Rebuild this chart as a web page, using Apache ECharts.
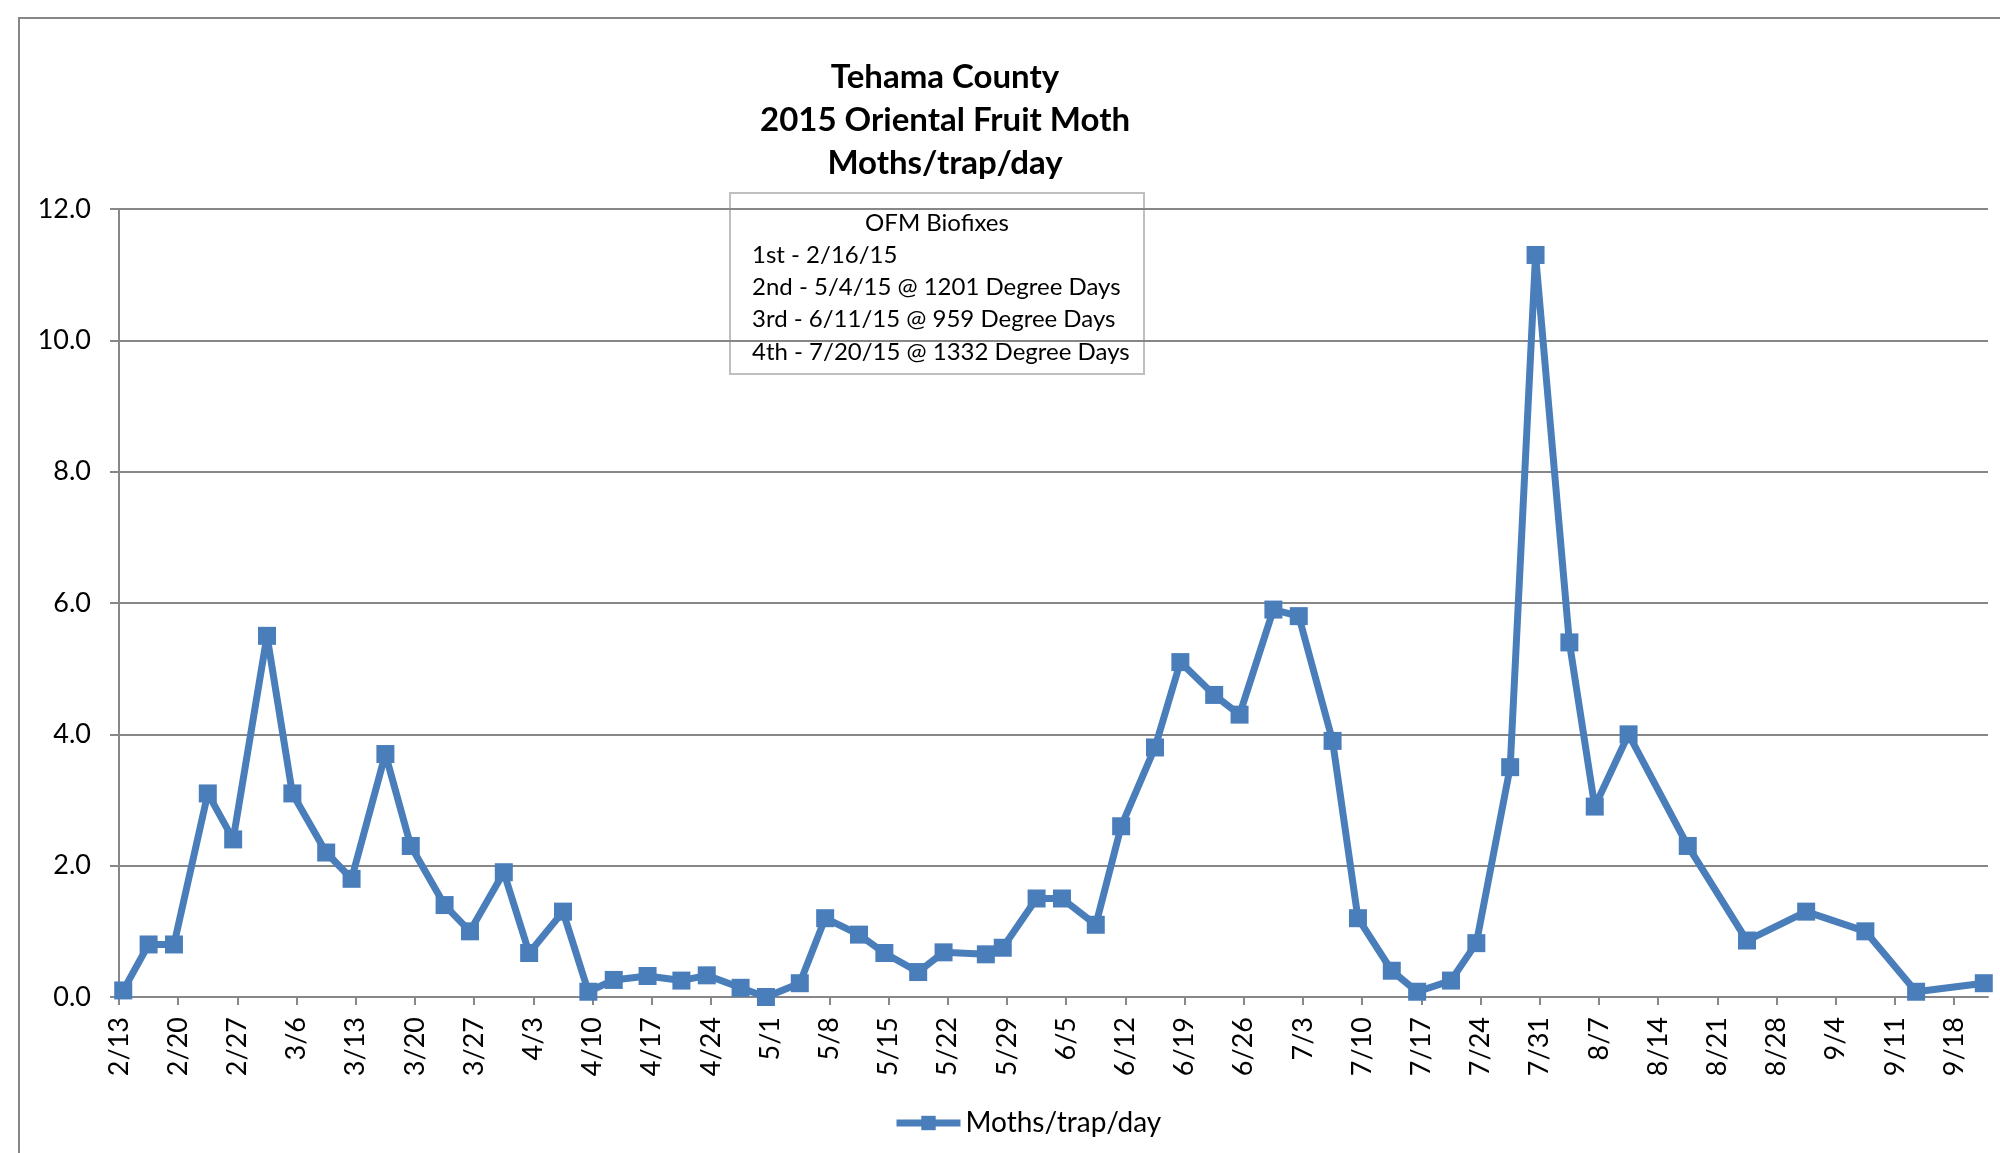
<!DOCTYPE html>
<html>
<head>
<meta charset="utf-8">
<script src="https://cdn.jsdelivr.net/npm/echarts@6/dist/echarts.min.js"></script>
<style>
html,body{margin:0;padding:0;background:#ffffff;}
#chart{width:2000px;height:1153px;}
</style>
</head>
<body>
<div id="chart"></div>
<script>
// ---------- data ----------
const chartYear = 2015;
const titleLines = ['Tehama County', '2015 Oriental Fruit Moth', 'Moths/trap/day'];
const seriesName = 'Moths/trap/day';

const sampleDates = [
  '2/13','2/16','2/19','2/23','2/26','3/2','3/5','3/9','3/12','3/16',
  '3/19','3/23','3/26','3/30','4/2','4/6','4/9','4/12','4/16','4/20',
  '4/23','4/27','4/30','5/4','5/7','5/11','5/14','5/18','5/21','5/26',
  '5/28','6/1','6/4','6/8','6/11','6/15','6/18','6/22','6/25','6/29',
  '7/2','7/6','7/9','7/13','7/16','7/20','7/23','7/27','7/30','8/3',
  '8/6','8/10','8/17','8/24','8/31','9/7','9/13','9/21'
];
const mothsPerTrapPerDay = [
  0.1, 0.8, 0.8, 3.1, 2.4, 5.5, 3.1, 2.2, 1.8, 3.7,
  2.3, 1.4, 1.0, 1.9, 0.67, 1.3, 0.08, 0.26, 0.32, 0.25,
  0.33, 0.14, 0.0, 0.21, 1.2, 0.95, 0.67, 0.38, 0.68, 0.65,
  0.75, 1.5, 1.5, 1.1, 2.6, 3.8, 5.1, 4.6, 4.3, 5.9,
  5.8, 3.9, 1.2, 0.4, 0.08, 0.25, 0.82, 3.5, 11.3, 5.4,
  2.9, 4.0, 2.3, 0.86, 1.3, 1.0, 0.08, 0.21
];

const xTickLabels = [
  '2/13','2/20','2/27','3/6','3/13','3/20','3/27','4/3','4/10','4/17',
  '4/24','5/1','5/8','5/15','5/22','5/29','6/5','6/12','6/19','6/26',
  '7/3','7/10','7/17','7/24','7/31','8/7','8/14','8/21','8/28','9/4',
  '9/11','9/18'
];
const xAxisStart = '2/13';
const xAxisEnd = '9/22';
const yAxisMin = 0;
const yAxisMax = 12;
const yAxisStep = 2;

const biofixHeading = 'OFM Biofixes';
const biofixLines = [
  '1st - 2/16/15',
  '2nd - 5/4/15 @ 1201 Degree Days',
  '3rd - 6/11/15 @ 959 Degree Days',
  '4th - 7/20/15 @ 1332 Degree Days'
];

// ---------- helpers ----------
function dayOf(md) {
  const p = md.split('/').map(Number);
  const s = xAxisStart.split('/').map(Number);
  return (Date.UTC(chartYear, p[0] - 1, p[1]) - Date.UTC(chartYear, s[0] - 1, s[1])) / 86400000;
}
// Excel date axis: each date is drawn in the middle of its one-day slot
const SLOT_CENTER = 0.5;
const tickDays = xTickLabels.map(dayOf);
const tickLabelByDay = {};
xTickLabels.forEach(function (l) { tickLabelByDay[dayOf(l)] = l; });
const seriesData = sampleDates.map(function (d, i) {
  return [dayOf(d) + SLOT_CENTER, mothsPerTrapPerDay[i]];
});

const FONT = 'Lato';
const GRAY = '#878787';
const BLUE = '#4A7EBB';

const chart = echarts.init(document.getElementById('chart'), null, { renderer: 'canvas' });
const option = {
  animation: false,
  backgroundColor: '#ffffff',
  title: {
    text: titleLines.join('\n'),
    left: 945,
    top: 56,
    textAlign: 'center',
    padding: 0,
    textStyle: { fontFamily: FONT, fontWeight: 'bold', fontSize: 33, lineHeight: 43, color: '#000000' }
  },
  legend: {
    data: [seriesName],
    left: 888,
    top: 1104,
    itemWidth: 64,
    itemHeight: 18,
    itemStyle: { color: BLUE },
    lineStyle: { width: 7, color: BLUE },
    textStyle: { fontFamily: FONT, fontSize: 28, color: '#000000' }
  },
  grid: { left: 119, right: 12, top: 209, bottom: 156, containLabel: false },
  xAxis: {
    type: 'value',
    min: dayOf(xAxisStart),
    max: dayOf(xAxisEnd),
    interval: 7,
    axisLine: { show: true, lineStyle: { color: GRAY, width: 2 } },
    axisTick: { show: true, length: 8, customValues: tickDays, lineStyle: { color: GRAY, width: 2 } },
    splitLine: { show: false },
    axisLabel: {
      customValues: tickDays,
      rotate: 90,
      margin: 20,
      padding: [10, 0, 0, 0],
      fontFamily: FONT,
      fontSize: 27,
      color: '#000000',
      formatter: function (v) { return tickLabelByDay[v] !== undefined ? tickLabelByDay[v] : ''; }
    }
  },
  yAxis: {
    type: 'value',
    min: yAxisMin,
    max: yAxisMax,
    interval: yAxisStep,
    axisLine: { show: true, lineStyle: { color: GRAY, width: 2 } },
    axisTick: { show: true, length: 9, lineStyle: { color: GRAY, width: 2 } },
    splitLine: { show: true, lineStyle: { color: GRAY, width: 2 } },
    axisLabel: {
      margin: 28,
      fontFamily: FONT,
      fontSize: 27,
      color: '#000000',
      formatter: function (v) { return v.toFixed(1); }
    }
  },
  series: [{
    name: seriesName,
    type: 'line',
    data: seriesData,
    symbol: 'rect',
    symbolSize: 18,
    showAllSymbol: true,
    lineStyle: { color: BLUE, width: 7 },
    itemStyle: { color: BLUE },
    emphasis: { disabled: true },
    z: 3
  }],
  graphic: [
    {
      type: 'polyline',
      shape: { points: [[19, 1153], [19, 18], [2000, 18]] },
      style: { stroke: GRAY, lineWidth: 2, fill: null },
      silent: true
    },
    {
      type: 'group',
      z: 10,
      children: [
        {
          type: 'rect',
          shape: { x: 730, y: 193, width: 414, height: 181 },
          style: { fill: '#ffffff', stroke: '#BFBFBF', lineWidth: 2 }
        },
        {
          type: 'text',
          x: 937, y: 223,
          style: { text: biofixHeading, fontFamily: FONT, fontSize: 24, fill: '#000000', textAlign: 'center', textVerticalAlign: 'middle' }
        }
      ].concat(biofixLines.map(function (line, i) {
        return {
          type: 'text',
          x: 752, y: 255 + i * 32.3,
          style: { text: line, fontFamily: FONT, fontSize: 24, fill: '#000000', textAlign: 'left', textVerticalAlign: 'middle' }
        };
      }))
    }
  ]
};
chart.setOption(option);
</script>
</body>
</html>
